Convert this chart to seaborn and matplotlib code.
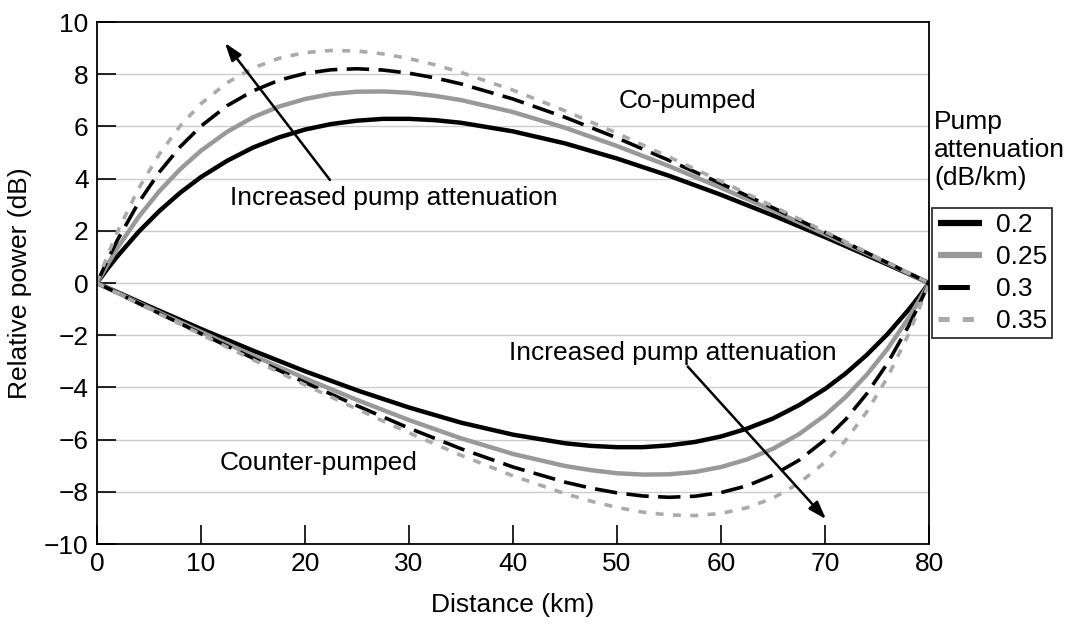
import numpy as np
import pandas as pd
import matplotlib
matplotlib.use("Agg")
import matplotlib.pyplot as plt
import seaborn as sns

# ---- data ----
pump_atten = ["0.2", "0.25", "0.3", "0.35"]

x_co = [0, 1, 2, 4, 6, 8, 10, 12.5, 15, 17.5, 20, 22.5, 25, 27.5, 30, 32.5, 35, 40, 45, 50, 55, 60, 65, 70, 75, 80]
co_02 = [0, 0.54, 1.04, 1.96, 2.76, 3.46, 4.06, 4.68, 5.19, 5.58, 5.88, 6.09, 6.22, 6.29, 6.29, 6.24, 6.14, 5.81, 5.35, 4.77, 4.11, 3.38, 2.59, 1.76, 0.89, 0]
co_025 = [0, 0.70, 1.36, 2.53, 3.52, 4.36, 5.07, 5.79, 6.35, 6.76, 7.05, 7.24, 7.33, 7.34, 7.29, 7.17, 7.01, 6.55, 5.95, 5.25, 4.48, 3.65, 2.78, 1.87, 0.95, 0]
co_03 = [0, 0.87, 1.67, 3.08, 4.25, 5.22, 6.01, 6.79, 7.36, 7.77, 8.03, 8.17, 8.21, 8.16, 8.04, 7.86, 7.63, 7.05, 6.35, 5.56, 4.70, 3.81, 2.88, 1.94, 0.97, 0]
co_035 = [0, 1.04, 1.99, 3.62, 4.94, 6.02, 6.87, 7.67, 8.24, 8.61, 8.83, 8.91, 8.89, 8.78, 8.60, 8.36, 8.07, 7.39, 6.60, 5.74, 4.83, 3.90, 2.94, 1.97, 0.99, 0]

x_counter = [0, 5, 10, 15, 20, 25, 30, 35, 40, 45, 47.5, 50, 52.5, 55, 57.5, 60, 62.5, 65, 67.5, 70, 72, 74, 76, 78, 79, 80]
counter_02 = [0, -0.89, -1.76, -2.59, -3.38, -4.11, -4.77, -5.35, -5.81, -6.14, -6.24, -6.29, -6.29, -6.22, -6.09, -5.88, -5.58, -5.19, -4.68, -4.06, -3.46, -2.76, -1.96, -1.04, -0.54, 0]
counter_025 = [0, -0.95, -1.87, -2.78, -3.65, -4.48, -5.25, -5.95, -6.55, -7.01, -7.17, -7.29, -7.34, -7.33, -7.24, -7.05, -6.76, -6.35, -5.79, -5.07, -4.36, -3.52, -2.53, -1.36, -0.70, 0]
counter_03 = [0, -0.97, -1.94, -2.88, -3.81, -4.70, -5.56, -6.35, -7.05, -7.63, -7.86, -8.04, -8.16, -8.21, -8.17, -8.03, -7.77, -7.36, -6.79, -6.01, -5.22, -4.25, -3.08, -1.67, -0.87, 0]
counter_035 = [0, -0.99, -1.97, -2.94, -3.90, -4.83, -5.74, -6.60, -7.39, -8.07, -8.36, -8.60, -8.78, -8.89, -8.91, -8.83, -8.61, -8.24, -7.67, -6.87, -6.02, -4.94, -3.62, -1.99, -1.04, 0]

y_ticks = [-10, -8, -6, -4, -2, 0, 2, 4, 6, 8, 10]
x_ticks = [0, 10, 20, 30, 40, 50, 60, 70, 80]

# ---- styling ----
sns.set_theme(style="white")
plt.rcParams['font.family'] = ['Liberation Sans', 'DejaVu Sans']
plt.rcParams['text.color'] = 'black'
plt.rcParams['axes.labelcolor'] = 'black'

colors = {"0.2": "black", "0.25": "#999999", "0.3": "black", "0.35": "#aaaaaa"}
widths = {"0.2": 3.2, "0.25": 3.2, "0.3": 2.6, "0.35": 2.6}
dashes = {"0.2": None, "0.25": None, "0.3": (6.2, 2.6), "0.35": (2.2, 2.6)}

FS = 19

fig = plt.figure(figsize=(10.75, 6.24), dpi=100)
ax = fig.add_axes([0.0902, 0.1282, 0.7740, 0.8365])

co_series = dict(zip(pump_atten, [co_02, co_025, co_03, co_035]))
counter_series = dict(zip(pump_atten, [counter_02, counter_025, counter_03, counter_035]))

handles = []
for key in pump_atten:
    for xs, ys, lab in [(x_co, co_series[key], key), (x_counter, counter_series[key], None)]:
        df = pd.DataFrame({"x": xs, "y": ys})
        sns.lineplot(data=df, x="x", y="y", ax=ax, color=colors[key],
                     linewidth=widths[key], label=lab, legend=False, sort=False)
        line = ax.lines[-1]
        if dashes[key] is not None:
            line.set_dashes(dashes[key])
        line.set_solid_capstyle("butt")
        line.set_solid_joinstyle("round")
        if lab is not None:
            handles.append(line)

ax.set_xlim(0, 80)
ax.set_ylim(-10, 10)
ax.set_xticks(x_ticks)
ax.set_yticks(y_ticks)
ax.set_xticklabels([str(t) for t in x_ticks])
ax.set_yticklabels([str(t).replace("-", "\u2212") for t in y_ticks])

for y in [-8, -6, -4, -2, 0, 2, 4, 6, 8]:
    ax.axhline(y, color="#cccccc", linewidth=1.0, zorder=0)

ax.tick_params(axis="both", direction="in", length=14, width=1.2, labelsize=FS,
               colors="black", pad=6)
ax.tick_params(axis="x", top=False, bottom=True)
ax.tick_params(axis="y", left=True, right=False)
for s in ax.spines.values():
    s.set_color("black")
    s.set_linewidth(1.3)

ax.set_xlabel("Distance (km)", fontsize=FS, labelpad=12, color="black")
ax.set_ylabel("Relative power (dB)", fontsize=FS, labelpad=9, color="black")

# annotations
tk = dict(fontsize=FS, ha="center", va="center", color="black")
ax.text(56.8, 6.97, "Co-pumped", **tk)
ax.text(21.3, -6.9, "Counter-pumped", **tk)
ax.text(28.5, 3.26, "Increased pump attenuation", **tk)
ax.text(55.4, -2.68, "Increased pump attenuation", **tk)
arrow = dict(arrowstyle="-|>,head_length=0.9,head_width=0.3", color="black", lw=1.8,
             shrinkA=0, shrinkB=0)
ax.annotate("", xy=(12.3, 9.2), xytext=(22.4, 3.95), arrowprops=arrow)
ax.annotate("", xy=(70.1, -9.05), xytext=(56.8, -3.2), arrowprops=arrow)

# legend (title drawn above box)
leg = ax.legend(handles=handles, labels=pump_atten, loc="upper left",
                bbox_to_anchor=(1.004, 0.644), frameon=True, fancybox=False,
                fontsize=FS, handlelength=1.7, handletextpad=0.5,
                borderpad=0.2, labelspacing=0.3, borderaxespad=0)
leg.get_frame().set_edgecolor("black")
leg.get_frame().set_linewidth(1.3)
for t in leg.get_texts():
    t.set_color("black")
for h in leg.get_lines():
    h.set_linewidth(h.get_linewidth() * 1.4)
fig.text(0.869, 0.76, "Pump\nattenuation\n(dB/km)", fontsize=FS, ha="left", va="center",
         linespacing=1.2, color="black")

fig.savefig("out.png", dpi=100)
